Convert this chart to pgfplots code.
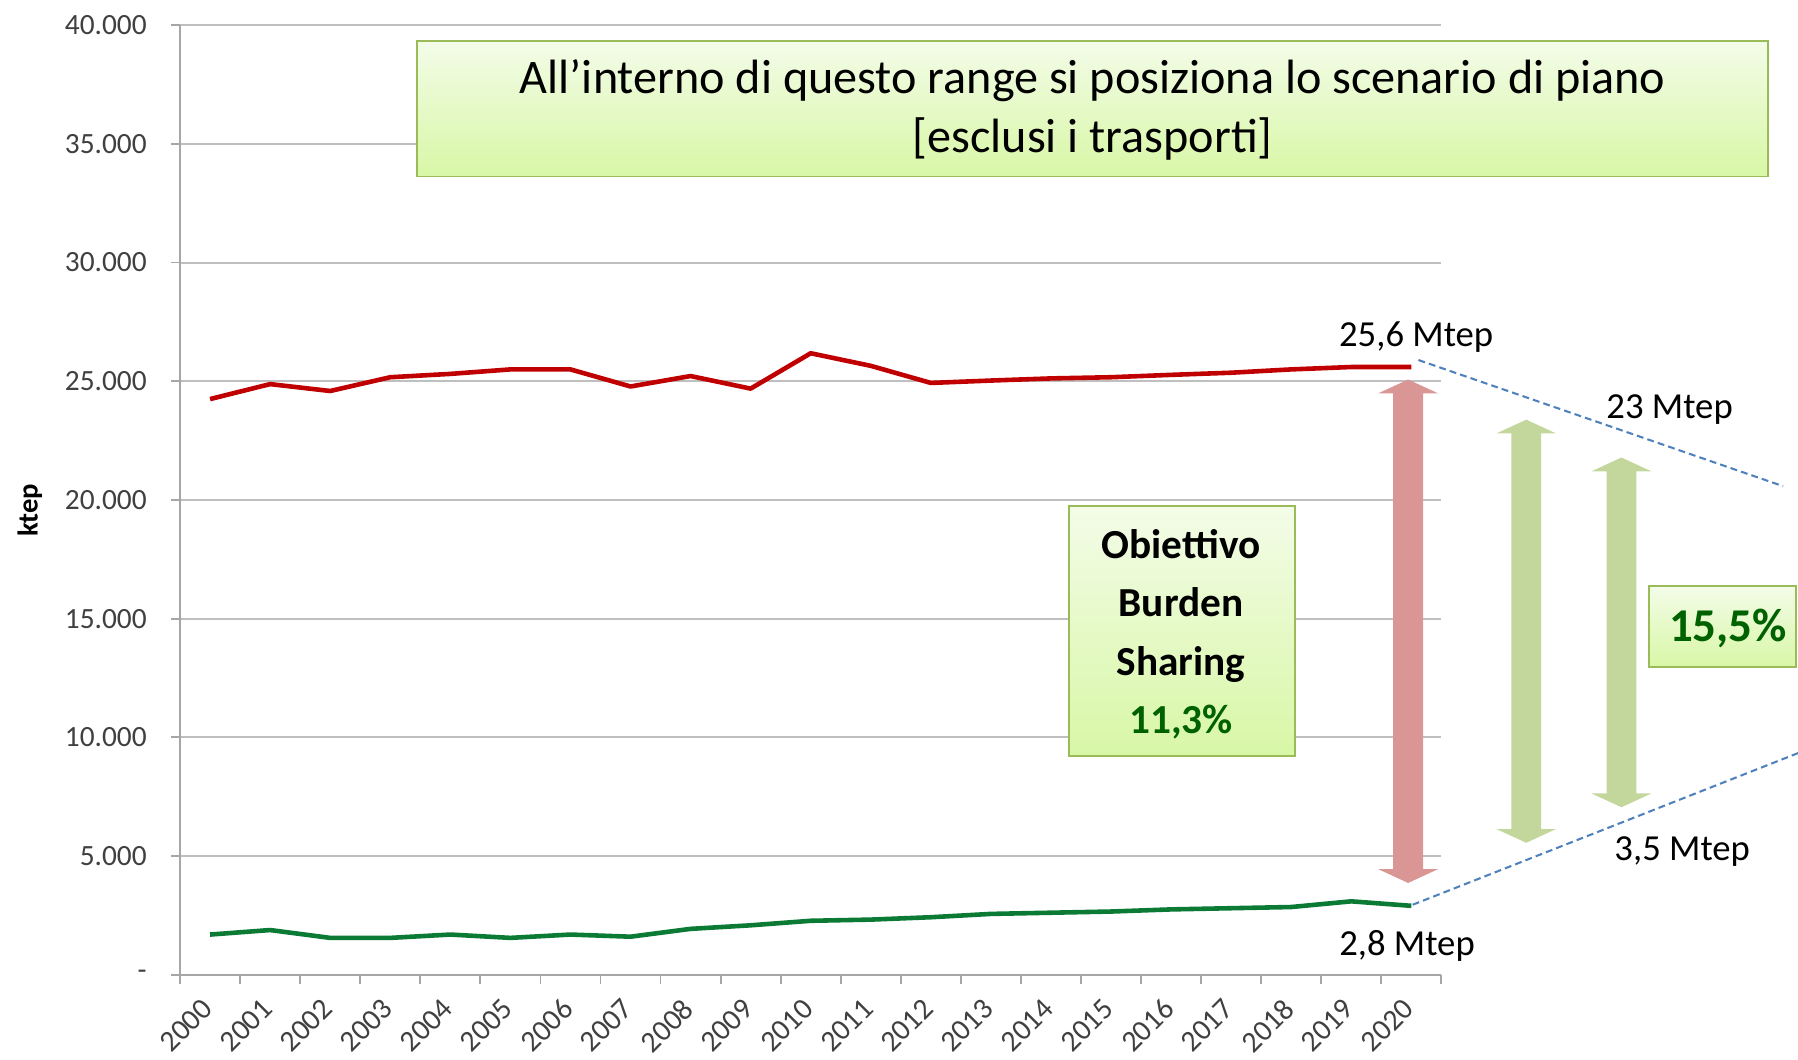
\documentclass[border=0pt]{standalone}
\usepackage{fontspec}
\setmainfont{Carlito}
\usepackage{pgfplots}
\pgfplotsset{compat=1.18}
\usetikzlibrary{calc}

\definecolor{linered}{HTML}{C00000}
\definecolor{linegreen}{HTML}{0A7A34}
\definecolor{gridgray}{HTML}{BFBFBF}
\definecolor{axgray}{HTML}{A6A6A6}
\definecolor{ticktext}{HTML}{404040}
\definecolor{arrred}{HTML}{D99694}
\definecolor{arrgreen}{HTML}{C3D69B}
\definecolor{boxtop}{HTML}{F3FCE8}
\definecolor{boxbot}{HTML}{D8F7A6}
\definecolor{boxline}{HTML}{9BBB59}
\definecolor{pctgreen}{HTML}{006100}
\definecolor{dashblue}{HTML}{4F81BD}

% red series: total final consumption [ktep]
\pgfplotstableread{
i val
0  24250
1  24880
2  24590
3  25170
4  25310
5  25500
6  25500
7  24780
8  25220
9  24690
10 26180
11 25650
12 24930
13 25030
14 25120
15 25170
16 25270
17 25360
18 25500
19 25600
20 25600
}\consumi

% green series: renewables [ktep]
\pgfplotstableread{
i val
0  1690
1  1880
2  1550
3  1550
4  1690
5  1550
6  1690
7  1600
8  1930
9  2080
10 2270
11 2320
12 2420
13 2560
14 2610
15 2660
16 2750
17 2800
18 2850
19 3090
20 2900
}\fer

% double arrow in pixel units: x, y top, y bottom, colour
\newcommand\dblarrow[4]{%
  \fill[#4] (#1,#2) -- ++(26,12) -- ++(-13,0) -- (#1+13,#3-12) -- ++(13,0)
    -- (#1,#3) -- ++(-26,-12) -- ++(13,0) -- (#1-13,#2+12) -- ++(-13,0) -- cycle;}

\begin{document}
\begin{tikzpicture}
\begin{axis}[
  name=ax,
  scale only axis, width=550pt, height=414pt,
  xmin=-0.5, xmax=20.5, ymin=0, ymax=40000,
  clip=false,
  axis x line*=bottom, axis y line*=left,
  axis line style={draw=axgray, line width=0.8pt},
  tick align=outside, major tick length=4pt,
  tick style={draw=axgray, line width=0.8pt},
  xtick={-0.5,0.5,...,20.5},
  x tick label as interval,
  xticklabels={2000,2001,2002,2003,2004,2005,2006,2007,2008,2009,2010,
               2011,2012,2013,2014,2015,2016,2017,2018,2019,2020},
  xticklabel style={rotate=45, anchor=north east, font=\fontsize{13}{14}\selectfont,
                    text=ticktext, inner sep=1pt, xshift=-5.8pt, yshift=0.1pt},
  ytick={0,5000,...,40000},
  yticklabels={-,5.000,10.000,15.000,20.000,25.000,30.000,35.000,40.000},
  yticklabel style={font=\fontsize{12.8}{14}\selectfont, text=ticktext, xshift=-7pt},
  ymajorgrids, grid style={draw=gridgray, line width=0.9pt},
]
\addplot[linered, line width=2pt, line join=round] table[x=i, y=val] {\consumi};
\addplot[linegreen, line width=2pt, line join=round] table[x=i, y=val] {\fer};
\end{axis}

% annotations, in pixel units of the reference (origin top left)
\begin{scope}[x=0.5pt, y=-0.5pt, shift={(ax.south west)}, shift={(-157,-850)}]
  % y axis title
  \node[rotate=90, font=\bfseries\fontsize{12.5}{14}\selectfont] at (26,445) {ktep};

  % title box
  \shade[top color=boxtop, bottom color=boxbot, draw=boxline, line width=0.8pt]
    (364,36) rectangle (1542,154);
  \node[align=center, font=\fontsize{21}{26}\selectfont] at (953,96)
    {All’interno di questo range si posiziona lo scenario di piano\\{}[esclusi i trasporti]};

  % dashed projection lines
  \draw[dashblue, line width=0.9pt, dash pattern=on 3pt off 1.8pt] (1237,314) -- (1555,424);
  \draw[dashblue, line width=0.9pt, dash pattern=on 3pt off 1.8pt] (1232,789) -- (1570,656);

  % arrows
  \dblarrow{1228}{331}{770}{arrred}
  \dblarrow{1331}{366}{735}{arrgreen}
  \dblarrow{1414}{399}{704}{arrgreen}

  % burden sharing box
  \shade[top color=boxtop, bottom color=boxbot, draw=boxline, line width=0.8pt]
    (932,441) rectangle (1129,659);
  \node[align=center, font=\bfseries\fontsize{18}{25.5}\selectfont] at (1030,553)
    {Obiettivo\\Burden\\Sharing\\\textcolor{pctgreen}{11,3\%}};

  % 15,5% box
  \shade[top color=boxtop, bottom color=boxbot, draw=boxline, line width=0.8pt]
    (1438,511) rectangle (1566.5,582);
  \node[font=\bfseries\fontsize{20.5}{24}\selectfont, text=pctgreen] at (1507,548) {15,5\%};

  % value labels
  \node[font=\fontsize{16}{19}\selectfont] at (1235,294) {25,6 Mtep};
  \node[font=\fontsize{16}{19}\selectfont] at (1456,357) {23 Mtep};
  \node[font=\fontsize{16}{19}\selectfont] at (1467,743) {3,5 Mtep};
  \node[font=\fontsize{16}{19}\selectfont] at (1227,825) {2,8 Mtep};
\end{scope}

\pgfresetboundingbox
\path[use as bounding box] ([xshift=-78.5pt, yshift=-37pt]ax.south west)
  rectangle ([xshift=155.5pt, yshift=11pt]ax.north east);
\end{tikzpicture}
\end{document}
